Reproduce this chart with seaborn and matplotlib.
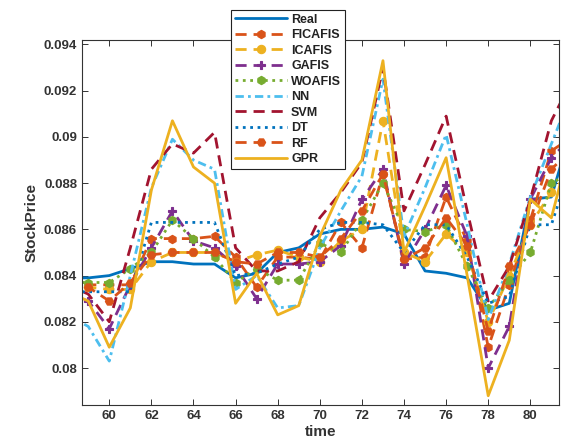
import numpy as np
import pandas as pd
import matplotlib
matplotlib.use('Agg')
import matplotlib.pyplot as plt
from matplotlib.ticker import FormatStrFormatter
import seaborn as sns

sns.set_style('ticks')
plt.rcParams['font.family'] = ['Liberation Sans', 'DejaVu Sans']

time = list(range(58, 83))

real = [0.0839, 0.0839, 0.0840, 0.0843, 0.0846, 0.0846, 0.0845, 0.0845, 0.0839, 0.0841,
        0.0850, 0.0852, 0.0858, 0.0860, 0.0860, 0.0861, 0.0858, 0.0842, 0.0841, 0.0839,
        0.0825, 0.0828, 0.0873, 0.0874, 0.0905]
ficafis = [0.0836, 0.0836, 0.0836, 0.0836, 0.0856, 0.0856, 0.0856, 0.0857, 0.0848, 0.0835,
           0.0848, 0.0848, 0.0847, 0.0863, 0.0852, 0.0884, 0.0847, 0.0848, 0.0874, 0.0855,
           0.0809, 0.0836, 0.0864, 0.0894, 0.0900]
icafis = [0.0835, 0.0835, 0.0834, 0.0834, 0.0846, 0.0850, 0.0850, 0.0850, 0.0846, 0.0849,
          0.0851, 0.0848, 0.0846, 0.0855, 0.0860, 0.0907, 0.0850, 0.0846, 0.0858, 0.0850,
          0.0820, 0.0840, 0.0862, 0.0876, 0.0886]
gafis = [0.0832, 0.0829, 0.0817, 0.0836, 0.0852, 0.0868, 0.0855, 0.0852, 0.0844, 0.0830,
         0.0845, 0.0845, 0.0846, 0.0853, 0.0873, 0.0886, 0.0845, 0.0860, 0.0879, 0.0857,
         0.0800, 0.0818, 0.0873, 0.0891, 0.0900]
woafis = [0.0837, 0.0837, 0.0837, 0.0843, 0.0850, 0.0864, 0.0856, 0.0848, 0.0837, 0.0843,
          0.0838, 0.0838, 0.0854, 0.0850, 0.0864, 0.0880, 0.0860, 0.0859, 0.0862, 0.0844,
          0.0826, 0.0838, 0.0850, 0.0880, 0.0885]
nn = [0.0823, 0.0818, 0.0803, 0.0840, 0.0878, 0.0899, 0.0890, 0.0886, 0.0834, 0.0840,
      0.0826, 0.0827, 0.0852, 0.0868, 0.0883, 0.0925, 0.0857, 0.0878, 0.0901, 0.0862,
      0.0821, 0.0845, 0.0874, 0.0897, 0.0920]
svm = [0.0836, 0.0832, 0.0820, 0.0852, 0.0886, 0.0897, 0.0893, 0.0902, 0.0852, 0.0842,
       0.0842, 0.0846, 0.0865, 0.0876, 0.0889, 0.0930, 0.0868, 0.0888, 0.0909, 0.0868,
       0.0829, 0.0844, 0.0873, 0.0907, 0.0925]
dt = [0.0833, 0.0833, 0.0833, 0.0833, 0.0863, 0.0863, 0.0863, 0.0863, 0.0840, 0.0841,
      0.0845, 0.0848, 0.0860, 0.0863, 0.0863, 0.0862, 0.0850, 0.0862, 0.0862, 0.0848,
      0.0828, 0.0831, 0.0862, 0.0862, 0.0890]
rf = [0.0834, 0.0835, 0.0829, 0.0837, 0.0849, 0.0850, 0.0850, 0.0850, 0.0846, 0.0845,
      0.0850, 0.0850, 0.0848, 0.0856, 0.0868, 0.0884, 0.0847, 0.0852, 0.0865, 0.0853,
      0.0816, 0.0844, 0.0862, 0.0886, 0.0895]
gpr = [0.0833, 0.0829, 0.0809, 0.0826, 0.0877, 0.0907, 0.0887, 0.0880, 0.0828, 0.0841,
       0.0823, 0.0827, 0.0857, 0.0877, 0.0890, 0.0933, 0.0850, 0.0870, 0.0891, 0.0840,
       0.0788, 0.0812, 0.0873, 0.0865, 0.0900]

dash = (0, (4, 2.5))
series = [
    ('Real', real, '#0072BD', '-', None),
    ('FICAFIS', ficafis, '#D95319', dash, 'h'),
    ('ICAFIS', icafis, '#EDB120', dash, 'o'),
    ('GAFIS', gafis, '#7E2F8E', dash, 'P'),
    ('WOAFIS', woafis, '#77AC30', ':', 'h'),
    ('NN', nn, '#4DBEEE', (0, (3, 1.5, 1, 1.5)), None),
    ('SVM', svm, '#A2142F', dash, None),
    ('DT', dt, '#0072BD', ':', None),
    ('RF', rf, '#D95319', dash, 'H'),
    ('GPR', gpr, '#EDB120', '-', None),
]

fig = plt.figure(figsize=(5.61, 4.48), dpi=100)
ax = fig.add_axes([0.146, 0.096, 0.850, 0.815])

for name, vals, col, ls, mk in series:
    sns.lineplot(x=time, y=vals, ax=ax, color=col, linestyle=ls, marker=mk,
                 markersize=6, markeredgewidth=0.8, markeredgecolor=col,
                 linewidth=2, label=name)

ax.set_xlim(58.7, 81.35)
ax.set_ylim(0.0784, 0.0942)
ax.set_xticks(range(60, 81, 2))
ax.set_yticks(np.arange(0.080, 0.0941, 0.002))
ax.yaxis.set_major_formatter(FormatStrFormatter('%g'))
ax.tick_params(direction='in', top=True, right=True, length=4, width=0.7,
               labelsize=9.5, labelcolor='#333333', colors='#333333')
for lab in ax.get_xticklabels() + ax.get_yticklabels():
    lab.set_fontweight('bold')
for sp in ax.spines.values():
    sp.set_linewidth(0.8)
    sp.set_color('#333333')

ax.set_xlabel('time', fontsize=11, fontweight='bold', color='#333333', labelpad=2)
ax.set_ylabel('StockPrice', fontsize=11, fontweight='bold', color='#333333', labelpad=4)

leg = ax.legend(loc='upper left', bbox_to_anchor=(0.412, 0.978),
                bbox_transform=fig.transFigure, frameon=True, fancybox=False,
                fontsize=9, handlelength=4.2, handletextpad=0.3,
                labelspacing=0.28, borderpad=0.3, borderaxespad=0)
leg.get_frame().set_edgecolor('#222222')
leg.get_frame().set_linewidth(0.8)
leg.get_frame().set_alpha(1)
for t in leg.get_texts():
    t.set_fontweight('bold')
    t.set_color('#222222')

fig.savefig('out.png', dpi=100)
